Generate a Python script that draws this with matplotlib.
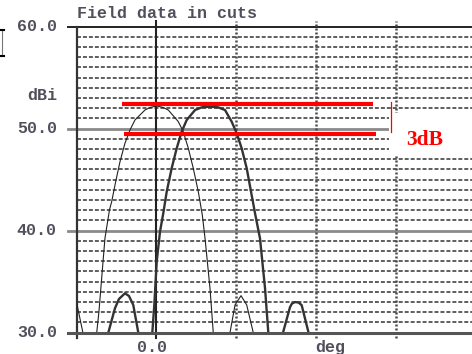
import numpy as np
import matplotlib
matplotlib.use("Agg")
import matplotlib.pyplot as plt
from matplotlib.patches import Rectangle

nan = np.nan

# cut 1 (thin line), angle in deg and gain in dBi
thin_deg = [-10.5, -9.91, -9.16, -9.0, nan,
            -7.6, -7.41, -7.13, -6.79, -6.38, -5.81, -5.54, -5.04, -4.5, -3.88,
            -3.25, -2.63, -1.38, -0.75, 0.09, 0.88, 1.54, 2.79, 3.41, 4.04,
            4.66, 5.29, 5.79, 6.13, 6.75, 7.16, 7.4, nan,
            9.0, 9.25, 9.88, 10.63, 11.34, 12.16, 12.4]
thin_db = [34.5, 32.9, 30.1, 28.0, nan,
           28.0, 30.0, 32.06, 35.33, 39.25, 42.06, 42.84, 44.8, 46.76, 48.57,
           49.87, 50.85, 51.83, 52.08, 52.23, 52.08, 51.83, 50.69, 49.71, 48.08,
           46.12, 43.82, 41.54, 39.25, 34.35, 30.0, 28.0, nan,
           28.0, 30.0, 32.72, 33.63, 32.72, 30.0, 28.0]

# cut 2 (thick line)
thick_deg = [-6.2, -5.96, -5.13, -4.63, -3.88, -3.38, -2.84, -2.21, -2.0, nan,
             -0.7, -0.46, -0.21, 0.09, 0.5, 0.91, 1.34, 1.96, 2.59, 3.21, 3.84,
             4.88, 5.75, 6.75, 7.75, 8.63, 9.46, 10.09, 10.71, 11.34, 11.88,
             12.38, 13.0, 13.63, 14.04, 14.3, nan,
             15.6, 15.91, 16.75, 17.0, 17.38, 17.81, 18.21, 19.04, 19.3]
thick_db = [28.0, 30.0, 32.39, 33.3, 33.86, 33.6, 32.72, 30.0, 28.0, nan,
            28.0, 30.0, 32.72, 36.96, 39.9, 41.7, 43.82, 46.12, 48.08, 49.71, 50.85,
            51.83, 52.1, 52.16, 52.1, 51.83, 50.69, 49.55, 48.08, 46.12, 43.82,
            41.7, 39.25, 34.35, 30.0, 28.0, nan,
            28.0, 30.1, 32.5, 32.86, 33.0, 32.96, 32.7, 30.1, 28.0]

y_labels = ["60.0", "50.0", "40.0", "30.0"]
y_label_vals = [60, 50, 40, 30]
hi_level = 52.39   # upper red marker
lo_level = 49.45   # lower red marker

mono = "Liberation Mono"
txt_col = "#50505c"

fig = plt.figure(figsize=(4.72, 3.54), dpi=100)
ax = fig.add_axes([0.1631, 0.0602, 0.8369, 0.8644])
ax.set_xlim(-9.875, 39.5)
ax.set_ylim(30, 60)
ax.axis("off")

# horizontal dashed grid every 1 dB
for v in range(31, 60):
    if v in (40, 50):
        continue
    ax.plot([-9.875, 39.5], [v, v], color="#333333", lw=1.1,
            dashes=(2.6, 1.3), zorder=1)
for v in (40, 50):
    ax.plot([-11, 39.5], [v, v], color="#8a8a8a", lw=2.0, zorder=1, clip_on=False)

# top / bottom borders and left ticks
ax.plot([-11, 39.5], [60, 60], color="#222222", lw=1.4, zorder=2, clip_on=False)
ax.plot([-11, 39.5], [30, 30], color="#555555", lw=2.2, zorder=4, clip_on=False)

# vertical lines
ax.plot([-9.875, -9.875], [29.5, 60], color="#333333", lw=1.6, zorder=2, clip_on=False)
ax.plot([0, 0], [29.5, 60.6], color="#222222", lw=1.5, zorder=2, clip_on=False)
for xv in (10, 20, 30):
    ax.plot([xv, xv], [29.5, 60.6], color="#4a4a4a", lw=1.8,
            linestyle=(0, (0.8, 0.8)), zorder=2, clip_on=False)

# cuts
ax.plot(thin_deg, thin_db, color="#222222", lw=0.8, zorder=3)
ax.plot(thick_deg, thick_db, color="#333333", lw=1.7, zorder=3)

# 3dB annotation
ax.add_patch(Rectangle((29.1, 47.4), 10.4, 4.1, facecolor="white",
                       edgecolor="none", zorder=5))
ax.plot([-4.29, 27.09], [hi_level, hi_level], color="#ff0000", lw=3.0, zorder=6,
        solid_capstyle="butt")
ax.plot([-3.96, 27.46], [lo_level, lo_level], color="#ff0000", lw=3.0, zorder=6,
        solid_capstyle="butt")
ax.plot([29.375, 29.375], [49.7, 52.6], color="#ff0000", lw=0.9, zorder=6)
ax.text(33.6, 48.9, "3dB", color="#ff0000", fontsize=15.5, fontweight="bold",
        family="Liberation Serif", ha="center", va="center", zorder=7)

# labels
for lab, v in zip(y_labels, y_label_vals):
    ax.text(-12.4, v, lab, family=mono, fontsize=12, fontweight="bold",
            color=txt_col, ha="right", va="center", clip_on=False)
ax.text(-12.3, 53.3, "dBi", family=mono, fontsize=12, fontweight="bold",
        color=txt_col, ha="right", va="center", clip_on=False)
ax.text(-0.44, 28.5, "0.0", family=mono, fontsize=12, fontweight="bold",
        color=txt_col, ha="center", va="center", clip_on=False)
ax.text(21.75, 28.5, "deg", family=mono, fontsize=12, fontweight="bold",
        color=txt_col, ha="center", va="center", clip_on=False)
ax.text(-9.875, 61.25, "Field data in cuts", family=mono, fontsize=12,
        fontweight="bold", color=txt_col, ha="left", va="center", clip_on=False)

# bit of a bracket cut off at the left edge
fig.add_artist(plt.Line2D([1.5 / 472, 1.5 / 472], [1 - 30 / 354, 1 - 56 / 354],
                          color="#777777", lw=0.8))
fig.add_artist(plt.Line2D([0, 4 / 472], [1 - 30 / 354, 1 - 30 / 354],
                          color="black", lw=1.5))
fig.add_artist(plt.Line2D([0, 4 / 472], [1 - 56 / 354, 1 - 56 / 354],
                          color="black", lw=1.5))

fig.savefig("out.png", dpi=100)
